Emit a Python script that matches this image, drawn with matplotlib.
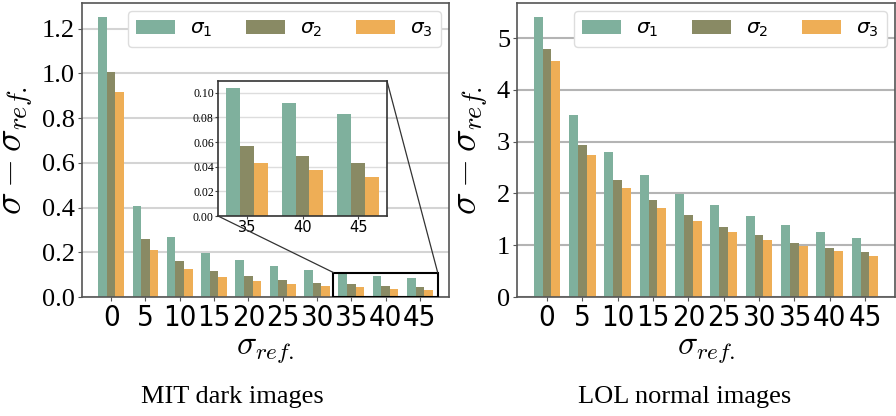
import numpy as np
import matplotlib
matplotlib.use("Agg")
import matplotlib.pyplot as plt
from matplotlib.patches import ConnectionPatch, Rectangle

categories = ["0", "5", "10", "15", "20", "25", "30", "35", "40", "45"]
series_names = [r"$\sigma_1$", r"$\sigma_2$", r"$\sigma_3$"]

mit_s1 = [1.254, 0.409, 0.268, 0.198, 0.165, 0.137, 0.119, 0.104, 0.092, 0.083]
mit_s2 = [1.008, 0.258, 0.161, 0.115, 0.094, 0.076, 0.064, 0.057, 0.049, 0.043]
mit_s3 = [0.916, 0.208, 0.127, 0.091, 0.071, 0.058, 0.049, 0.043, 0.037, 0.032]

lol_s1 = [5.41, 3.52, 2.81, 2.35, 1.99, 1.77, 1.57, 1.40, 1.26, 1.14]
lol_s2 = [4.79, 2.94, 2.27, 1.88, 1.58, 1.36, 1.20, 1.05, 0.95, 0.86]
lol_s3 = [4.55, 2.74, 2.10, 1.72, 1.46, 1.26, 1.11, 0.99, 0.88, 0.80]

captions = ["MIT dark images", "LOL normal images"]
colors = ["#7fb09d", "#898a64", "#eeae56"]

W = 0.25
x = np.arange(len(categories))
serif = ["Liberation Serif", "DejaVu Serif"]

fig = plt.figure(figsize=(8.96, 4.16), dpi=100)
axL = fig.add_axes([82/896, 1-297/416, (449-82)/896, 294/416])
axR = fig.add_axes([517/896, 1-297/416, (895-517)/896, 294/416])


def draw(ax, data, grid_color, ylab_x):
    for k, (vals, c, name) in enumerate(zip(data, colors, series_names)):
        ax.bar(x + (k - 1) * W, vals, W, color=c, label=name, zorder=2)
    ax.set_xticks(x)
    ax.set_xticklabels(categories, fontsize=21, family="DejaVu Sans", fontstretch="condensed")
    ax.yaxis.grid(True, color=grid_color, lw=1.5, zorder=0)
    ax.set_axisbelow(True)
    for s in ax.spines.values():
        s.set_color("#555555")
        s.set_linewidth(1.2)
    ax.tick_params(length=3, color="#555555", pad=2)
    ax.set_xlabel(r"$\sigma_{ref.}$", fontsize=24, math_fontfamily="cm", labelpad=0)
    ax.set_ylabel(r"$\sigma-\sigma_{ref.}$", fontsize=27, math_fontfamily="cm")
    ax.yaxis.set_label_coords(ylab_x, 0.5)
    ax.legend(loc="upper right", ncol=3, fontsize=14.5, handlelength=1.95, handleheight=0.67,
              columnspacing=1.65, handletextpad=0.75, borderpad=0.4, borderaxespad=0.4,
              framealpha=1, edgecolor="#dddddd", fancybox=True)
    ax.set_xlim(-0.85, 9.85)


draw(axL, [mit_s1, mit_s2, mit_s3], "#d4d4d4", (35 - 82) / 367)
axL.set_ylim(0, 1.315)
axL.set_yticks([0, 0.2, 0.4, 0.6, 0.8, 1.0, 1.2])
axL.set_yticklabels(["0.0", "0.2", "0.4", "0.6", "0.8", "1.0", "1.2"], family=serif, fontsize=19)

draw(axR, [lol_s1, lol_s2, lol_s3], "#b4b4b4", (490 - 517) / 378)
axR.set_ylim(0, 5.68)
axR.set_yticks([0, 1, 2, 3, 4, 5])
axR.set_yticklabels(["0", "1", "2", "3", "4", "5"], family=serif, fontsize=19)

# inset
ins = fig.add_axes([218/896, 1-216/416, (387-218)/896, (216-81)/416])
for k, (vals, c) in enumerate(zip([mit_s1, mit_s2, mit_s3], colors)):
    ins.bar(x[7:] + (k - 1) * W, vals[7:], W, color=c, zorder=2)
ins.set_xlim(6.48, 9.52)
ins.set_ylim(0, 0.1095)
ins.set_xticks(x[7:])
ins.set_xticklabels(categories[7:], fontsize=10.5, family="DejaVu Sans")
ins.set_yticks([0, 0.02, 0.04, 0.06, 0.08, 0.10])
ins.set_yticklabels(["0.00", "0.02", "0.04", "0.06", "0.08", "0.10"], family=serif, fontsize=8.5)
ins.yaxis.grid(True, color="#dddddd", lw=1.0, zorder=0)
ins.set_axisbelow(True)
ins.tick_params(length=2, pad=1, color="#444444")
for s in ins.spines.values():
    s.set_color("#333333")
    s.set_linewidth(1.2)

x0, x1 = ins.get_xlim()
y0, y1 = ins.get_ylim()
axL.add_patch(Rectangle((x0, y0), x1 - x0, y1 - y0, fill=False, ec="black", lw=1.5, zorder=5))
for (pa, pb) in [((0, 0), (x0, y1)), ((1, 1), (x1, y1))]:
    cp = ConnectionPatch(xyA=pa, coordsA=ins.transAxes, xyB=pb, coordsB=axL.transData,
                         color="#333333", lw=0.9)
    fig.add_artist(cp)

fig.text(232/896, 1-397/416, captions[0], ha="center", va="center", family=serif, fontsize=19)
fig.text(685/896, 1-397/416, captions[1], ha="center", va="center", family=serif, fontsize=19)

fig.savefig("out.png", dpi=100)
